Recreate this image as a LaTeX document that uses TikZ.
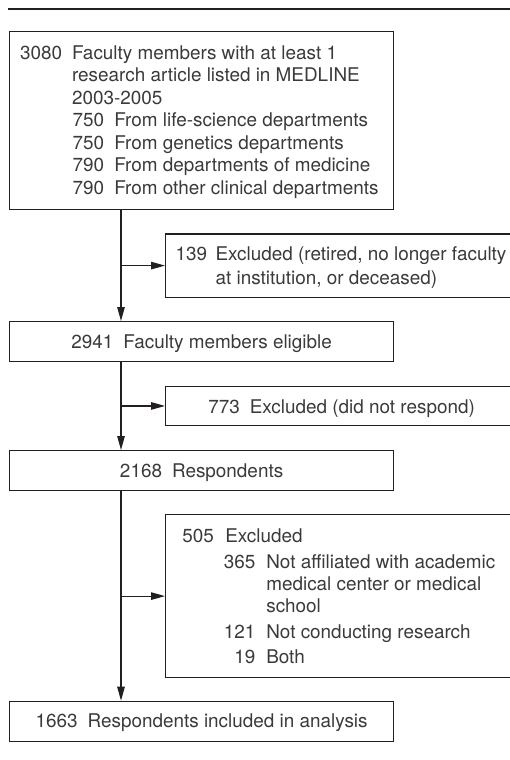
\documentclass[tikz,border=0pt]{standalone}
\usepackage{fontspec}
\setmainfont{TeX Gyre Heros}
\usetikzlibrary{arrows.meta}
\definecolor{linec}{HTML}{231F20}
\definecolor{textc}{HTML}{3A3A3A}
\begin{document}
\begin{tikzpicture}[x=1pt,y=-1pt,
  box/.style={draw=linec, line width=1.2pt, inner sep=0pt, anchor=north west, text=textc,
    font=\fontsize{18.9}{22.5}\selectfont},
  flow/.style={draw=linec, line width=1.1pt, -{Triangle[length=14pt,width=7.5pt]}},
  rule/.style={draw=linec, line width=1.5pt}
]
\useasboundingbox (0,0) rectangle (510,760);
\coordinate (rl) at (8,9);
\coordinate (rr) at (512,9);
\draw[rule] (rl) -- (rr);

\node[box, text height=27.5pt, text depth=150.5pt] (b1) at (9,31)
 {\makebox[384pt][l]{\hspace{10.5pt}\begin{tabular}[t]{@{}l@{}}
  \makebox[52pt][l]{3080}Faculty members with at least 1\\
  \hspace{52pt}research article listed in MEDLINE\\
  \hspace{52pt}2003-2005\\
  \hspace{52.5pt}\makebox[41.7pt][l]{750}From life-science departments\\
  \hspace{52.5pt}\makebox[41.7pt][l]{750}From genetics departments\\
  \hspace{52.5pt}\makebox[41.7pt][l]{790}From departments of medicine\\
  \hspace{52.5pt}\makebox[41.7pt][l]{790}From other clinical departments
 \end{tabular}}};

\node[box, font=\fontsize{18.9}{24}\selectfont, text height=26.2pt, text depth=37.2pt] (b2) at (165,233.3)
 {\makebox[352pt][l]{\hspace{10pt}\begin{tabular}[t]{@{}l@{}}
  \makebox[40pt][l]{139}Excluded (retired, no longer faculty\\
  \hspace{40pt}at institution, or deceased)
 \end{tabular}}};

\node[box, text height=27pt, text depth=13pt] (b3) at (9,321)
 {\makebox[384pt]{2941\hspace{10pt}Faculty members eligible}};

\node[box, text height=27.3pt, text depth=12pt] (b4) at (165,385.7)
 {\makebox[352pt]{773\hspace{10pt}Excluded (did not respond)}};

\node[box, text height=27pt, text depth=13pt] (b5) at (9,450)
 {\makebox[384pt]{2168\hspace{10pt}Respondents}};

\node[box, font=\fontsize{18.9}{22}\selectfont, text height=28pt, text depth=135pt] (b6) at (165,514)
 {\makebox[352pt][l]{\hspace{16.7pt}\begin{tabular}[t]{@{}l@{}}
  \makebox[43pt][l]{505}Excluded\\[3.5pt]
  \makebox[73pt][r]{365}\hspace{11pt}Not affiliated with academic\\
  \hspace{84pt}medical center or medical\\[0.5pt]
  \hspace{84pt}school\\[3.5pt]
  \makebox[73pt][r]{121}\hspace{11pt}Not conducting research\\[3pt]
  \makebox[73pt][r]{19}\hspace{11pt}Both
 \end{tabular}}};

\node[box, text height=26.3pt, text depth=13.7pt] (b7) at (9,700.7)
 {\makebox[384pt]{1663\hspace{10pt}Respondents included in analysis}};

\coordinate (sp) at (121,0);
\draw[flow] (b1.south -| sp) -- (b3.north -| sp);
\draw[flow] (b2.west -| sp) -- (b2.west);
\draw[flow] (b3.south -| sp) -- (b5.north -| sp);
\draw[flow] (b4.west -| sp) -- (b4.west);
\draw[flow] (b5.south -| sp) -- (b7.north -| sp);
\draw[flow] (b6.west -| sp) -- (b6.west);
\end{tikzpicture}
\end{document}
